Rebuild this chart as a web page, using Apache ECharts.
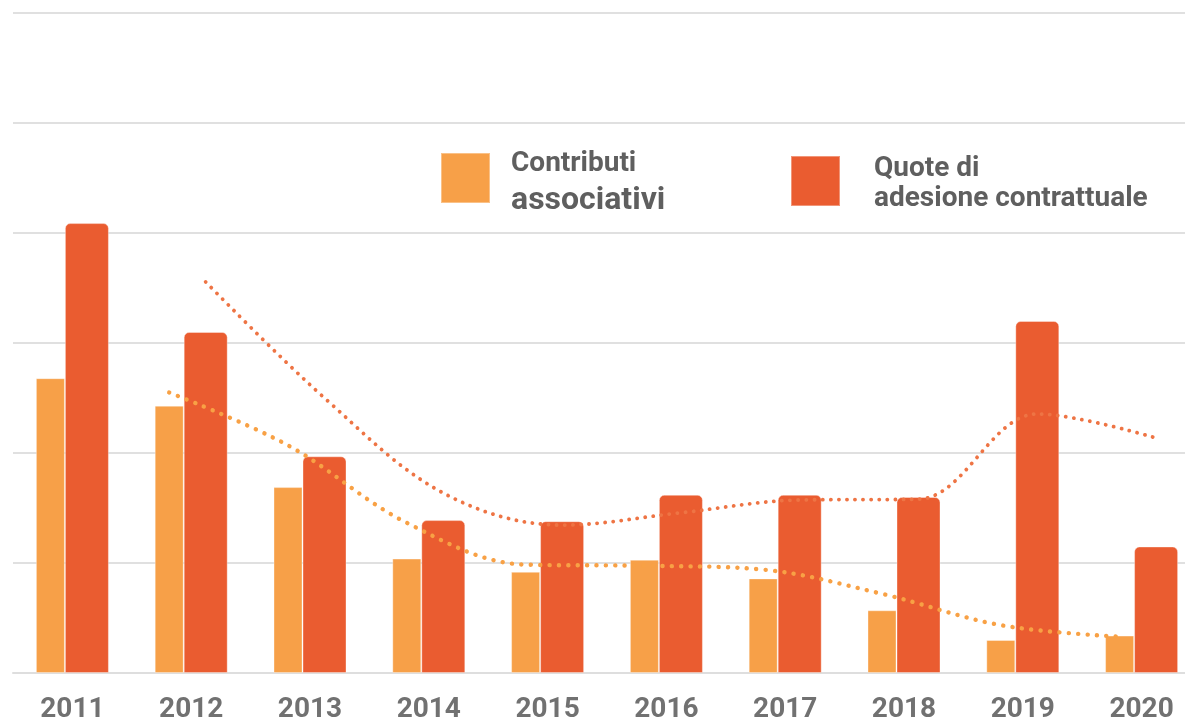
<!DOCTYPE html>
<html>
<head>
<meta charset="utf-8">
<script src="https://cdn.jsdelivr.net/npm/echarts@6/dist/echarts.min.js"></script>
<style>
  html, body { margin: 0; padding: 0; background: #ffffff; overflow: hidden; }
  #chart { width: 1185px; height: 720px; }
</style>
</head>
<body>
<div id="chart"></div>
<script>
// Years on the category axis
const years = ['2011', '2012', '2013', '2014', '2015', '2016', '2017', '2018', '2019', '2020'];

// Bar series
const contributiName = 'Contributi associativi';
const contributi = [2.68, 2.43, 1.69, 1.04, 0.92, 1.03, 0.86, 0.57, 0.30, 0.34];
const quoteName = 'Quote di adesione contrattuale';
const quote = [4.09, 3.10, 1.97, 1.39, 1.38, 1.62, 1.62, 1.60, 3.20, 1.15];

// Two-period moving-average trend lines (first value starts at 2012)
const contributiTrend = [null, 2.55, 2.07, 1.365, 0.985, 0.975, 0.94, 0.72, 0.435, 0.33];
const quoteTrend = [null, 3.555, 2.50, 1.636, 1.345, 1.457, 1.573, 1.58, 2.355, 2.136];

// Layout constants (the plot runs a little past the right edge of the canvas)
const gridLeft = 13, gridWidth = 1188;
const orangeW = 29, redW = 44;
const catW = gridWidth / years.length;
const pairW = orangeW + redW;
const orangeOffset = (-pairW / 2 + orangeW / 2) / catW;
const redOffset = (-pairW / 2 + orangeW + redW / 2) / catW;

function trendPoints(values, offset) {
  const pts = [];
  values.forEach((v, i) => { if (v !== null) pts.push([i + offset, v]); });
  return pts;
}

const ORANGE = '#F7A048';
const RED = '#EA5C30';
const TEXT = '#5f5f5f';

const chart = echarts.init(document.getElementById('chart'), null, { renderer: 'canvas' });

chart.setOption({
  backgroundColor: '#ffffff',
  animation: false,
  grid: {
    left: gridLeft, top: 13, width: gridWidth, bottom: 47,
    containLabel: false,
    outerBoundsMode: 'none'
  },
  legend: [
    {
      data: [contributiName],
      left: 435, top: 145,
      orient: 'horizontal',
      icon: 'rect',
      itemWidth: 49, itemHeight: 50,
      selectedMode: false,
      formatter: () => '{a|Contributi}\n{b|associativi}',
      textStyle: {
        padding: [10, 0, 0, 16],
        rich: {
          a: { fontFamily: 'Roboto', fontWeight: 'bold', fontSize: 28, lineHeight: 36, color: TEXT },
          b: { fontFamily: 'Roboto', fontWeight: 'bold', fontSize: 32, lineHeight: 38, color: TEXT }
        }
      }
    },
    {
      data: [quoteName],
      left: 785, top: 150,
      orient: 'horizontal',
      icon: 'rect',
      itemWidth: 49, itemHeight: 50,
      selectedMode: false,
      formatter: () => '{a|Quote di}\n{a|adesione contrattuale}',
      textStyle: {
        padding: [6, 0, 0, 29],
        rich: {
          a: { fontFamily: 'Roboto', fontWeight: 'bold', fontSize: 28, lineHeight: 30, color: TEXT }
        }
      }
    }
  ],
  xAxis: [
    {
      type: 'category',
      data: years,
      axisTick: { show: false },
      axisLine: { show: true, lineStyle: { color: '#dedede', width: 2 } },
      axisLabel: {
        margin: 23,
        fontFamily: 'Roboto',
        fontWeight: 'bold',
        fontSize: 28,
        color: '#717171'
      }
    },
    {
      type: 'value',
      min: -0.5,
      max: years.length - 0.5,
      show: false
    }
  ],
  yAxis: {
    type: 'value',
    min: 0, max: 6, interval: 1,
    axisLabel: { show: false },
    axisLine: { show: false },
    axisTick: { show: false },
    splitLine: { show: true, lineStyle: { color: '#e0e0e0', width: 2 } }
  },
  series: [
    {
      name: contributiName,
      type: 'bar',
      data: contributi,
      barWidth: orangeW,
      barGap: '0%',
      itemStyle: { color: ORANGE, borderColor: 'rgba(255,255,255,0.35)', borderWidth: 1 },
      z: 2
    },
    {
      name: quoteName,
      type: 'bar',
      data: quote,
      barWidth: redW,
      barGap: '0%',
      itemStyle: { color: RED, borderRadius: [5, 5, 0, 0], borderColor: 'rgba(255,255,255,0.35)', borderWidth: 1 },
      z: 2
    },
    {
      name: 'trend-contributi',
      type: 'line',
      xAxisIndex: 1,
      data: trendPoints(contributiTrend, orangeOffset),
      smooth: 0.35,
      showSymbol: false,
      silent: true,
      lineStyle: { color: '#F8A145', width: 4.4, type: [0.1, 9.3], cap: 'round' },
      z: 5
    },
    {
      name: 'trend-quote',
      type: 'line',
      xAxisIndex: 1,
      data: trendPoints(quoteTrend, redOffset),
      smooth: 0.35,
      showSymbol: false,
      silent: true,
      lineStyle: { color: '#EE7444', width: 3.8, type: [0.1, 8], cap: 'round' },
      z: 5
    }
  ]
});
</script>
</body>
</html>
